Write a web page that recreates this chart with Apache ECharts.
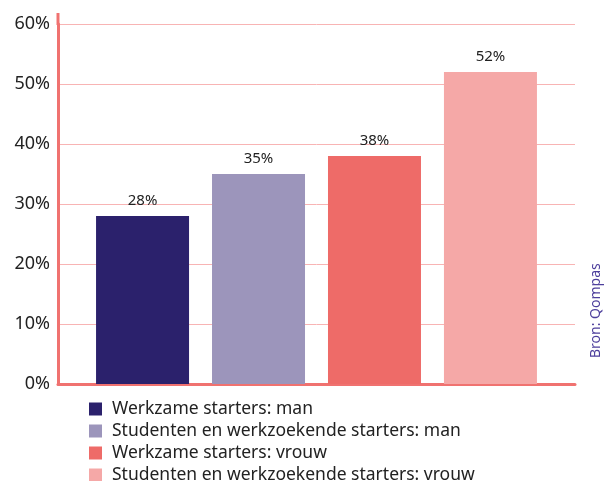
<!DOCTYPE html>
<html>
<head>
<meta charset="utf-8">
<script src="https://cdn.jsdelivr.net/npm/echarts@6/dist/echarts.min.js"></script>
<style>
  html, body { margin: 0; padding: 0; background: #fff; }
  #chart { width: 604px; height: 481px; }
</style>
</head>
<body>
<div id="chart"></div>
<script>
// data
var seriesNames = [
  'Werkzame starters: man',
  'Studenten en werkzoekende starters: man',
  'Werkzame starters: vrouw',
  'Studenten en werkzoekende starters: vrouw'
];
var seriesValues = [28, 35, 38, 52];
var seriesColors = ['#2b216c', '#9c95bb', '#ee6b68', '#f5a8a7'];
var yTicks = [0, 10, 20, 30, 40, 50, 60];

var fontName = 'Noto Sans';

var chart = echarts.init(document.getElementById('chart'));

var series = [];
for (var i = 0; i < seriesNames.length; i++) {
  series.push({
    name: seriesNames[i],
    type: 'bar',
    data: [seriesValues[i]],
    barWidth: 93,
    barGap: '24.7%',
    itemStyle: { color: seriesColors[i] },
    label: {
      show: true,
      position: 'top',
      distance: 8,
      formatter: '{c}%',
      color: '#222',
      fontSize: 15,
      fontFamily: fontName
    }
  });
}

chart.setOption({
  animation: false,
  textStyle: { fontFamily: fontName },
  grid: { left: 58, right: 29, top: 24, bottom: 97, containLabel: false },
  legend: {
    orient: 'vertical',
    left: 89,
    top: 400,
    padding: 0,
    height: 120,
    icon: 'rect',
    itemWidth: 13,
    itemHeight: 13,
    itemGap: 4,
    textStyle: {
      color: '#222',
      fontSize: 17.5,
      lineHeight: 17,
      padding: [0, 0, 0, 5],
      fontFamily: fontName
    },
    data: seriesNames
  },
  xAxis: {
    type: 'category',
    data: [''],
    axisLine: { lineStyle: { color: '#f07270', width: 3 } },
    axisTick: { show: false },
    axisLabel: { show: false }
  },
  yAxis: {
    type: 'value',
    min: yTicks[0],
    max: yTicks[yTicks.length - 1],
    interval: 10,
    axisLine: { show: true, lineStyle: { color: '#f07270', width: 3 } },
    axisTick: { show: false },
    axisLabel: {
      formatter: '{value}%',
      color: '#222',
      fontSize: 18,
      margin: 8
    },
    splitLine: { lineStyle: { color: '#f8b4b4', width: 1 } }
  },
  graphic: [
    {
      type: 'line',
      shape: { x1: 58, y1: 13, x2: 58, y2: 25 },
      style: { stroke: '#f07270', lineWidth: 3 }
    },
    {
      type: 'text',
      x: 603,
      y: 358,
      rotation: Math.PI / 2,
      style: {
        text: 'Bron: Qompas',
        fill: '#4d3f9c',
        fontSize: 14,
        fontFamily: fontName,
        textAlign: 'left',
        textVerticalAlign: 'bottom'
      }
    }
  ],
  series: series
});
</script>
</body>
</html>
